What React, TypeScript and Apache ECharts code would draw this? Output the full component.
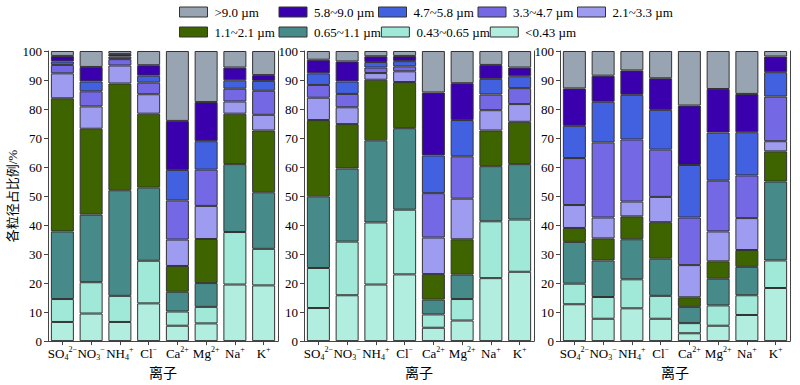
import React, { useEffect, useRef } from "react";
import * as echarts from "echarts";

// size bins, bottom of stack to top
const sizeBins = [
  "<0.43 µm",
  "0.43~0.65 µm",
  "0.65~1.1 µm",
  "1.1~2.1 µm",
  "2.1~3.3 µm",
  "3.3~4.7 µm",
  "4.7~5.8 µm",
  "5.8~9.0 µm",
  ">9.0 µm",
];
const legendOrder = [
  ">9.0 µm",
  "5.8~9.0 µm",
  "4.7~5.8 µm",
  "3.3~4.7 µm",
  "2.1~3.3 µm",
  "1.1~2.1 µm",
  "0.65~1.1 µm",
  "0.43~0.65 µm",
  "<0.43 µm",
];
const binColors = [
  "#B2EEE0",
  "#A0E8D7",
  "#468B89",
  "#3E6400",
  "#9E9CF0",
  "#7468E4",
  "#4161E1",
  "#3A00AE",
  "#98A4B2",
];

const categories = ["SO4", "NO3", "NH4", "Cl", "Ca", "Mg", "Na", "K"];
const categoryLabels = [
  "{b|SO}{sub|4}{sup|2−}",
  "{b|NO}{sub|3}{sup|−}",
  "{b|NH}{sub|4}{sup|+}",
  "{b|Cl}{sup|−}",
  "{b|Ca}{sup|2+}",
  "{b|Mg}{sup|2+}",
  "{b|Na}{sup|+}",
  "{b|K}{sup|+}",
];

// per-category shares (%) of each size bin, bottom to top
const panel1 = [
  [6.6, 7.9, 23.3, 45.9, 8.6, 2.9, 1.2, 1.9, 1.7],
  [9.5, 10.8, 23.3, 29.6, 7.7, 5.2, 3.4, 5.0, 5.5],
  [6.6, 9.0, 36.4, 36.8, 6.2, 2.2, 0.9, 0.9, 1.0],
  [13.0, 14.7, 25.2, 25.5, 6.7, 4.0, 2.4, 3.6, 4.9],
  [5.3, 4.9, 6.8, 8.9, 9.1, 13.5, 10.5, 16.9, 24.1],
  [6.1, 5.7, 8.2, 15.2, 11.4, 12.5, 9.8, 13.5, 17.6],
  [19.5, 18.1, 23.4, 17.4, 4.2, 4.4, 2.9, 4.4, 5.7],
  [19.2, 12.6, 19.5, 21.3, 5.4, 8.3, 3.4, 2.0, 8.3],
];
const panel2 = [
  [11.4, 13.8, 24.7, 26.3, 7.7, 4.4, 4.0, 4.7, 3.0],
  [15.8, 18.5, 25.2, 15.3, 5.8, 4.6, 4.3, 6.9, 3.6],
  [19.5, 21.4, 28.3, 20.9, 2.3, 1.9, 1.9, 2.0, 1.8],
  [23.0, 22.3, 28.1, 15.9, 3.7, 1.7, 1.8, 1.8, 1.7],
  [4.6, 4.6, 5.1, 8.8, 12.6, 15.3, 13.0, 21.7, 14.3],
  [7.1, 7.4, 8.4, 12.2, 14.0, 14.6, 12.5, 12.7, 11.1],
  [21.7, 19.6, 19.0, 12.3, 7.0, 5.4, 5.4, 4.8, 4.8],
  [23.9, 18.0, 19.1, 14.6, 6.1, 5.5, 4.1, 3.0, 5.7],
];
const panel3 = [
  [12.7, 7.1, 14.4, 4.8, 7.9, 16.2, 11.1, 12.9, 12.9],
  [7.7, 7.5, 12.6, 7.6, 7.2, 25.9, 14.0, 9.0, 8.5],
  [11.3, 10.0, 13.8, 7.9, 5.1, 21.4, 15.4, 8.4, 6.7],
  [7.7, 7.9, 12.8, 12.6, 8.7, 16.3, 13.7, 10.9, 9.4],
  [2.7, 3.5, 5.6, 3.3, 11.1, 16.4, 18.1, 20.5, 18.8],
  [5.3, 7.0, 9.2, 6.0, 10.3, 17.5, 16.6, 15.0, 13.1],
  [9.0, 6.8, 9.8, 5.8, 11.0, 14.7, 14.9, 13.2, 14.8],
  [18.3, 9.5, 27.2, 10.4, 3.5, 15.4, 8.4, 5.4, 1.9],
];
const panels = [panel1, panel2, panel3];

const yTicks = [0, 10, 20, 30, 40, 50, 60, 70, 80, 90, 100];
const yAxisTitle = "各粒径占比例/%";
const xAxisTitle = "离子";

const SERIF = "'Liberation Serif', 'Times New Roman', 'Noto Sans CJK SC', serif";
const AXIS_COLOR = "#444";

export default function App() {
  const ref = useRef<HTMLDivElement>(null);

  useEffect(() => {
    if (!ref.current) return;
    const chart = echarts.init(ref.current, undefined, { renderer: "svg" });

    const gridLefts = [48, 304, 560];
    const grids = gridLefts.map((l) => ({
      left: l,
      top: 51,
      width: 230,
      height: 297,
      containLabel: false,
    }));

    const xAxes: any[] = [];
    const yAxes: any[] = [];
    const series: any[] = [];

    panels.forEach((panel, p) => {
      xAxes.push({
        type: "category",
        gridIndex: p,
        data: categories,
        axisLine: { show: true, lineStyle: { color: AXIS_COLOR, width: 1 } },
        axisTick: { show: true, alignWithLabel: true, length: 4, lineStyle: { color: AXIS_COLOR } },
        axisLabel: {
          interval: 0,
          margin: 4,
          formatter: (_v: string, i: number) => categoryLabels[i],
          rich: {
            b: { fontFamily: SERIF, fontSize: 13, color: "#000", lineHeight: 16 },
            sub: { fontFamily: SERIF, fontSize: 8, color: "#000", lineHeight: 8, verticalAlign: "bottom" },
            sup: { fontFamily: SERIF, fontSize: 8, color: "#000", lineHeight: 8, verticalAlign: "top" },
          },
        },
        name: xAxisTitle,
        nameLocation: "middle",
        nameGap: 18,
        nameTextStyle: { fontFamily: SERIF, fontSize: 14, color: "#000" },
        splitLine: { show: false },
      });
      yAxes.push({
        type: "value",
        gridIndex: p,
        min: yTicks[0],
        max: yTicks[yTicks.length - 1],
        interval: yTicks[1] - yTicks[0],
        axisLine: { show: true, lineStyle: { color: AXIS_COLOR, width: 1 } },
        axisTick: { show: true, length: 4, lineStyle: { color: AXIS_COLOR } },
        axisLabel: { fontFamily: SERIF, fontSize: 13, color: "#000", margin: 6 },
        splitLine: { show: false },
        name: p === 0 ? yAxisTitle : "",
        nameLocation: "middle",
        nameRotate: 90,
        nameGap: 27,
        nameTextStyle: { fontFamily: SERIF, fontSize: 13, color: "#000" },
      });
      yAxes.push({
        type: "value",
        gridIndex: p,
        position: "right",
        min: yTicks[0],
        max: yTicks[yTicks.length - 1],
        axisLine: { show: true, lineStyle: { color: AXIS_COLOR, width: 1 } },
        axisTick: { show: false },
        axisLabel: { show: false },
        splitLine: { show: false },
      });

      sizeBins.forEach((bin, s) => {
        series.push({
          type: "bar",
          name: bin,
          xAxisIndex: p,
          yAxisIndex: p * 2,
          stack: "panel" + p,
          barWidth: 23,
          data: panel.map((row) => row[s]),
          itemStyle: { color: binColors[s], borderColor: "#333", borderWidth: 1 },
        });
      });
    });

    chart.setOption({
      animation: false,
      backgroundColor: "#fff",
      legend: {
        data: legendOrder,
        left: 179,
        top: 2,
        padding: 0,
        width: 520,
        itemGap: 0,
        itemWidth: 28,
        itemHeight: 10,
        icon: "rect",
        itemStyle: { borderColor: "#333", borderWidth: 1 },
        textStyle: {
          fontFamily: SERIF,
          fontSize: 13,
          color: "#000",
          width: 64,
          lineHeight: 20,
          padding: [0, 0, 0, 2],
        },
      },
      grid: grids,
      xAxis: xAxes,
      yAxis: yAxes,
      series,
    });

    return () => chart.dispose();
  }, []);

  return (
    <div
      ref={ref}
      style={{ position: "fixed", left: 0, top: 0, width: 800, height: 385, background: "#fff" }}
    />
  );
}
